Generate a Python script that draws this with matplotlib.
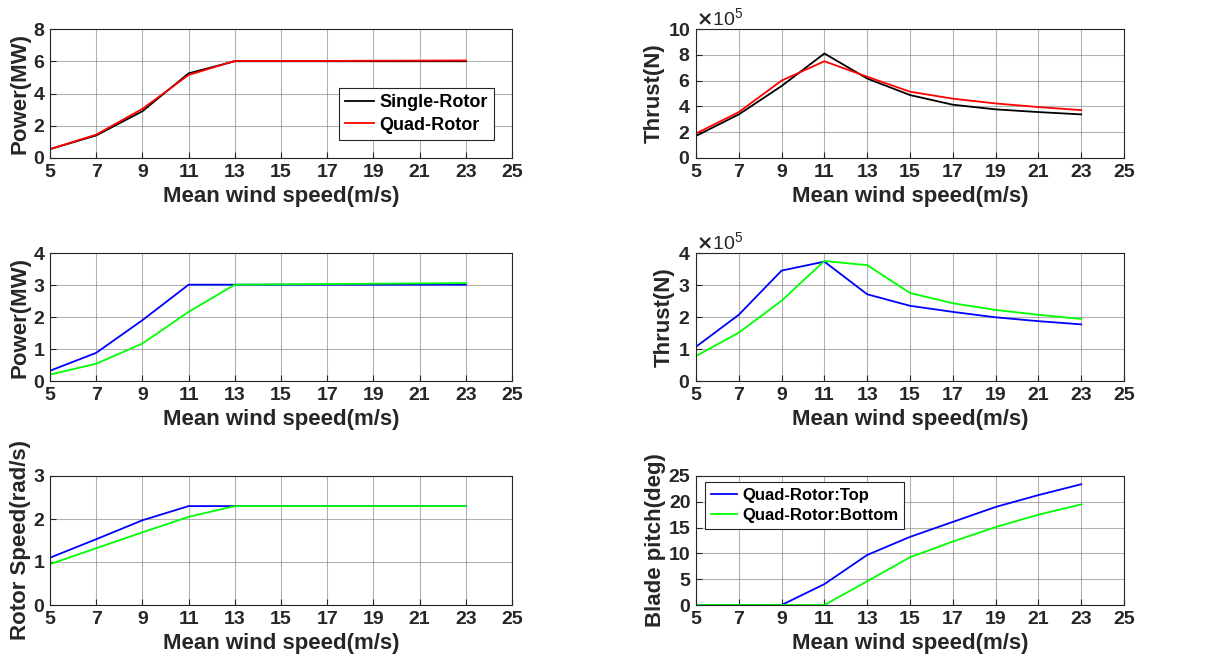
import numpy as np
import matplotlib
matplotlib.use("Agg")
import matplotlib.pyplot as plt

# wind speeds (m/s)
wind = [5, 7, 9, 11, 13, 15, 17, 19, 21, 23]

# power (MW)
power_single = [0.55, 1.40, 2.90, 5.25, 6.00, 6.00, 6.00, 6.00, 6.00, 6.00]
power_quad = [0.55, 1.45, 3.05, 5.15, 6.02, 6.02, 6.02, 6.03, 6.04, 6.05]

# thrust (x1e5 N)
thrust_single = [1.71, 3.38, 5.58, 8.10, 6.16, 4.88, 4.13, 3.77, 3.56, 3.38]
thrust_quad = [1.90, 3.56, 6.00, 7.50, 6.30, 5.14, 4.60, 4.23, 3.95, 3.71]

# quad rotor top / bottom
power_top = [0.32, 0.88, 1.90, 3.01, 3.01, 3.01, 3.01, 3.01, 3.01, 3.01]
power_bottom = [0.20, 0.54, 1.17, 2.16, 3.01, 3.02, 3.03, 3.04, 3.05, 3.06]
thrust_top = [1.07, 2.07, 3.45, 3.73, 2.71, 2.35, 2.16, 1.99, 1.87, 1.77]
thrust_bottom = [0.78, 1.51, 2.51, 3.75, 3.62, 2.75, 2.43, 2.22, 2.07, 1.94]
speed_top = [1.10, 1.53, 1.97, 2.30, 2.30, 2.30, 2.30, 2.30, 2.30, 2.30]
speed_bottom = [0.95, 1.32, 1.69, 2.05, 2.30, 2.30, 2.30, 2.30, 2.30, 2.30]
pitch_top = [0, 0, 0, 4.05, 9.7, 13.2, 16.1, 19.0, 21.3, 23.4]
pitch_bottom = [0, 0, 0, 0, 4.6, 9.25, 12.3, 15.1, 17.5, 19.5]

xticks = [5, 7, 9, 11, 13, 15, 17, 19, 21, 23, 25]

plt.rcParams['font.family'] = ['Liberation Sans', 'DejaVu Sans']
plt.rcParams['font.weight'] = 'bold'
txt = '#262626'

fig = plt.figure(figsize=(12.26, 6.70), dpi=100)

lx, lw_ = 50 / 1226, 462 / 1226
rx, rw = 696 / 1226, 428 / 1226
rows = [(1 - 158 / 670, 129 / 670), (1 - 381 / 670, 128 / 670), (1 - 605 / 670, 129 / 670)]


def style(ax, ylim, yticks, ylabel, sci=False):
    ax.set_xlim(5, 25)
    ax.set_xticks(xticks)
    ax.set_ylim(*ylim)
    ax.set_yticks(yticks)
    ax.grid(True, color='0.5', lw=0.8, alpha=0.6)
    ax.set_axisbelow(True)
    ax.tick_params(direction='in', labelsize=14, colors=txt, length=4, pad=4)
    for lab in ax.get_xticklabels() + ax.get_yticklabels():
        lab.set_fontweight('bold')
    for s in ax.spines.values():
        s.set_color(txt)
        s.set_linewidth(0.8)
    ax.set_xlabel('Mean wind speed(m/s)', fontsize=16, fontweight='bold', color=txt, labelpad=4)
    ax.set_ylabel(ylabel, fontsize=16, fontweight='bold', color=txt, labelpad=2)
    if sci:
        ax.ticklabel_format(axis='y', style='sci', scilimits=(5, 5), useMathText=True)
        ax.yaxis.get_offset_text().set_fontsize(14)
        ax.yaxis.get_offset_text().set_fontweight('normal')
        ax.yaxis.get_offset_text().set_color(txt)


def add_legend(ax, loc, anchor, size, hlen):
    leg = ax.legend(loc=loc, bbox_to_anchor=anchor, prop={'size': size, 'weight': 'bold'},
                    fancybox=False, edgecolor=txt, framealpha=1, handlelength=hlen,
                    borderpad=0.35, labelspacing=0.3, handletextpad=0.3, borderaxespad=0)
    leg.get_frame().set_linewidth(0.8)


w = np.array(wind)
lw = 1.3

ax1 = fig.add_axes([lx, rows[0][0], lw_, rows[0][1]])
ax1.plot(w, power_single, color='k', lw=lw, label='Single-Rotor')
ax1.plot(w, power_quad, color='#ff0000', lw=lw, label='Quad-Rotor')
style(ax1, (0, 8), [0, 2, 4, 6, 8], 'Power(MW)')
add_legend(ax1, 'lower right', (0.961, 0.14), 13, 1.6)

ax2 = fig.add_axes([rx, rows[0][0], rw, rows[0][1]])
ax2.plot(w, np.array(thrust_single) * 1e5, color='k', lw=lw)
ax2.plot(w, np.array(thrust_quad) * 1e5, color='#ff0000', lw=lw)
style(ax2, (0, 10e5), np.arange(0, 11e5, 2e5), 'Thrust(N)', sci=True)

ax3 = fig.add_axes([lx, rows[1][0], lw_, rows[1][1]])
ax3.plot(w, power_top, color='#0000ff', lw=lw)
ax3.plot(w, power_bottom, color='#00ff00', lw=lw)
style(ax3, (0, 4), [0, 1, 2, 3, 4], 'Power(MW)')

ax4 = fig.add_axes([rx, rows[1][0], rw, rows[1][1]])
ax4.plot(w, np.array(thrust_top) * 1e5, color='#0000ff', lw=lw)
ax4.plot(w, np.array(thrust_bottom) * 1e5, color='#00ff00', lw=lw)
style(ax4, (0, 4e5), np.arange(0, 5e5, 1e5), 'Thrust(N)', sci=True)

ax5 = fig.add_axes([lx, rows[2][0], lw_, rows[2][1]])
ax5.plot(w, speed_top, color='#0000ff', lw=lw)
ax5.plot(w, speed_bottom, color='#00ff00', lw=lw)
style(ax5, (0, 3), [0, 1, 2, 3], 'Rotor Speed(rad/s)')

ax6 = fig.add_axes([rx, rows[2][0], rw, rows[2][1]])
ax6.plot(w, pitch_top, color='#0000ff', lw=lw, label='Quad-Rotor:Top')
ax6.plot(w, pitch_bottom, color='#00ff00', lw=lw, label='Quad-Rotor:Bottom')
style(ax6, (0, 25), [0, 5, 10, 15, 20, 25], 'Blade pitch(deg)')
add_legend(ax6, 'upper left', (0.021, 0.953), 12, 1.6)

fig.savefig('out.png', dpi=100)
